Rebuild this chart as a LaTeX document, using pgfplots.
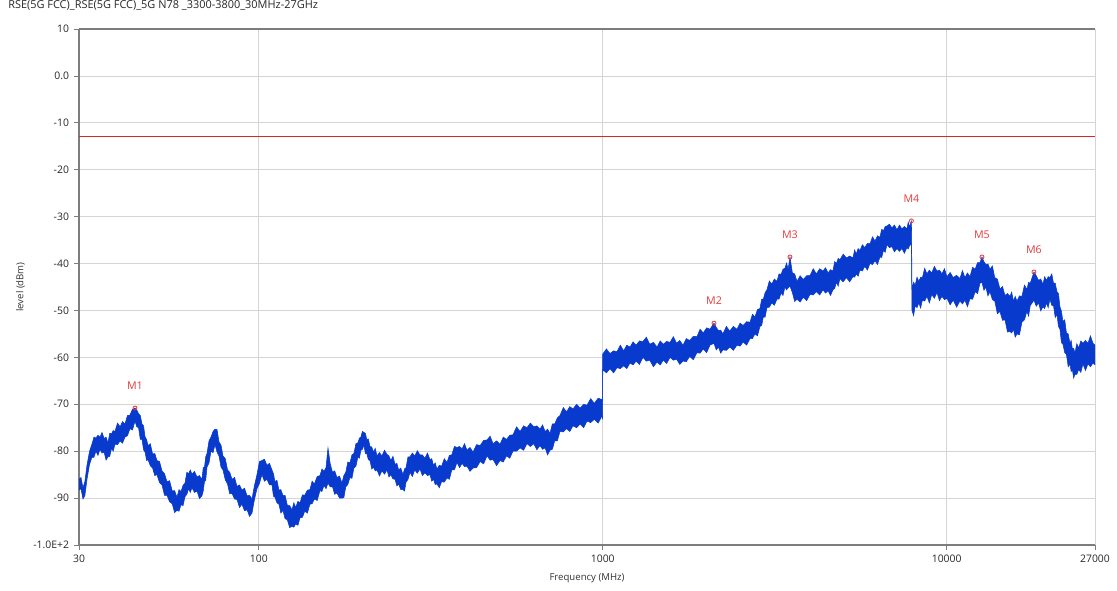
\documentclass[border=0pt]{standalone}
\usepackage{pgfplots}
\pgfplotsset{compat=1.18}
\usepackage{pgfplotstable}
\usepgfplotslibrary{fillbetween}
\usepackage{fontspec}
\setmainfont{Open Sans}

\definecolor{trace}{RGB}{8,58,205}
\definecolor{limit}{RGB}{215,40,40}
\definecolor{mred}{RGB}{225,60,60}
\definecolor{gridc}{RGB}{212,212,212}
\definecolor{axisc}{RGB}{125,125,125}

% spectrum band: frequency (MHz), upper and lower edge of the noise band (dBm)
\pgfplotstableread{
f up lo
30 -86.0 -88.3
30.4 -85.6 -88.0
30.81 -87.8 -90.2
31.2 -86.5 -89.5
31.65 -83.0 -86.0
32.2 -80.0 -82.8
32.72 -78.5 -81.3
33.16 -77.0 -81.3
33.6 -77.2 -80.0
34.06 -76.6 -80.9
34.53 -77.0 -79.6
35.0 -76.0 -80.4
35.5 -77.3 -80.2
35.96 -77.0 -81.9
36.42 -78.2 -81.2
36.86 -76.2 -81.1
37.3 -76.3 -79.4
37.73 -75.6 -80.0
38.17 -75.8 -78.5
38.83 -74.0 -78.6
39.5 -74.8 -77.8
40.15 -73.7 -78.3
40.81 -74.2 -77.0
41.5 -72.4 -76.7
42.2 -72.3 -75.2
42.9 -71.1 -75.5
43.64 -70.8 -73.6
44.17 -71.2 -74.8
44.7 -72.0 -75.0
45.22 -72.4 -77.5
45.74 -74.2 -77.5
46.22 -74.6 -79.7
46.7 -77.0 -80.2
47.16 -77.5 -82.0
47.62 -78.8 -81.8
48.36 -78.4 -83.1
49.1 -80.6 -83.6
49.83 -80.5 -85.2
50.57 -82.0 -85.0
51.43 -82.2 -86.7
52.3 -84.2 -87.2
53.18 -84.8 -89.4
54.07 -86.5 -89.4
55.03 -86.3 -90.8
56.0 -88.5 -91.2
56.9 -88.4 -93.1
57.81 -89.8 -92.6
58.6 -88.2 -92.8
59.4 -88.6 -91.4
60.2 -87.3 -91.6
61.0 -86.8 -89.7
61.75 -84.5 -89.2
62.5 -84.8 -88.0
63.2 -84.0 -88.8
63.92 -84.9 -87.8
65.0 -84.3 -88.8
66.1 -85.5 -88.5
67.2 -85.2 -90.1
68.34 -86.0 -89.5
68.92 -83.5 -88.5
69.5 -83.4 -86.5
70.09 -81.2 -86.2
70.68 -80.5 -83.4
71.64 -77.8 -82.5
72.6 -77.0 -80.0
73.6 -75.8 -80.3
74.58 -75.3 -78.6
75.6 -75.4 -80.2
76.6 -78.0 -81.0
77.64 -78.7 -83.4
78.68 -81.0 -84.0
79.9 -81.6 -86.1
81.1 -84.0 -87.0
82.3 -84.5 -89.1
83.56 -86.0 -89.0
85.0 -85.6 -90.2
86.4 -87.5 -90.3
87.87 -87.2 -92.0
89.33 -88.3 -91.3
90.87 -87.9 -92.7
92.4 -89.5 -92.5
93.96 -89.4 -93.9
95.52 -90.2 -93.2
97.0 -87.5 -90.5
98.77 -85.0 -88.0
100.4 -82.2 -86.9
102.1 -82.0 -85.0
103.8 -81.7 -86.4
105.6 -83.0 -86.0
107.4 -82.6 -87.2
109.2 -84.0 -87.2
110.3 -84.8 -89.6
111.4 -86.5 -89.8
112.9 -86.2 -91.0
114.4 -88.3 -91.3
115.9 -88.2 -93.2
117.5 -89.4 -92.6
119.2 -89.4 -94.4
121 -91.5 -94.6
122.9 -91.6 -96.3
124.9 -92.5 -96.0
126.4 -91.0 -96.2
128 -92.0 -95.5
129.9 -90.7 -95.8
131.8 -91.0 -94.2
133.9 -89.3 -94.1
136 -89.4 -92.8
138.4 -88.3 -93.2
140.8 -88.2 -91.3
142.9 -86.4 -91.2
145 -87.0 -90.2
147.8 -85.4 -90.5
150.6 -85.2 -88.4
152.6 -83.8 -88.6
154.7 -84.3 -87.3
156.8 -83.5 -88.0
158.9 -79.3 -86.8
161.3 -82.7 -87.6
163.8 -84.5 -87.6
166.2 -84.2 -89.2
168.7 -85.6 -88.9
171.6 -85.3 -90.0
174.5 -86.8 -90.0
176.7 -85.2 -89.9
179 -84.5 -87.6
181.5 -82.3 -87.1
184.1 -82.5 -85.6
186.5 -80.8 -85.8
189 -80.5 -83.6
191.6 -78.4 -83.2
194.2 -78.2 -81.2
196.1 -77.2 -81.5
198 -77.0 -79.8
200.1 -75.8 -79.6
202.2 -76.0 -78.7
204.1 -76.2 -80.5
206 -77.5 -80.5
208.2 -77.4 -81.8
210.5 -79.0 -82.0
213 -79.1 -83.8
215.5 -80.2 -83.4
218 -79.4 -84.2
220.6 -81.0 -84.0
224.3 -80.3 -85.3
228 -81.0 -84.2
232 -79.8 -84.9
235.9 -80.7 -84.0
239 -81.0 -85.5
242 -82.0 -85.0
245.5 -81.1 -85.9
248.9 -82.8 -86.0
252 -82.6 -87.4
255 -84.0 -87.0
258.7 -83.6 -88.2
262.5 -85.0 -88.2
265.2 -83.8 -88.5
268 -83.5 -86.6
271.5 -81.2 -86.0
275.1 -81.2 -84.5
279.5 -80.4 -85.4
284 -81.0 -84.0
289 -79.9 -84.7
294.2 -80.8 -83.8
299 -80.8 -85.2
304 -81.5 -84.6
309.3 -80.4 -85.2
314.6 -81.8 -85.0
318.3 -81.6 -86.4
322 -83.0 -86.0
325.8 -82.5 -87.1
329.6 -83.8 -87.0
334.8 -83.0 -87.8
340 -83.2 -86.5
346.2 -81.6 -86.6
352.4 -82.4 -85.7
358.2 -80.9 -86.0
364 -80.8 -84.0
370.4 -79.0 -84.0
376.9 -79.2 -82.4
383.4 -79.0 -83.5
390 -79.5 -82.6
396.4 -78.4 -83.3
402.9 -79.8 -83.2
411.2 -79.2 -84.3
419.5 -80.2 -83.6
429.7 -78.6 -83.5
440 -78.8 -82.2
450.4 -77.7 -82.7
460.8 -77.6 -81.0
470.4 -76.8 -81.9
480 -78.4 -81.8
491.3 -77.8 -83.1
502.7 -78.5 -82.0
513.8 -77.0 -82.3
525 -77.5 -81.0
536.6 -76.6 -81.5
548.3 -76.5 -80.0
561.6 -74.8 -80.0
575 -75.8 -79.3
588.6 -74.6 -79.8
602.2 -75.0 -78.4
616.1 -74.0 -79.0
630 -74.8 -78.4
643.4 -74.6 -79.7
656.9 -75.3 -78.8
668.4 -74.4 -79.6
680 -75.8 -79.3
691.2 -75.3 -80.8
702.4 -76.2 -79.8
713.7 -74.2 -79.6
725 -74.2 -77.8
738 -72.9 -77.8
751.0 -72.4 -75.8
768 -70.7 -75.9
785 -71.6 -75.2
802 -70.5 -75.8
819.1 -71.0 -74.6
839.5 -70.0 -75.0
860 -70.8 -74.2
879.9 -70.0 -75.0
899.7 -70.2 -73.6
922.4 -68.8 -73.9
945 -69.8 -73.2
969.9 -68.7 -74.0
994.8 -69.0 -72.5
999 -69.2 -73.0
1000 -59.3 -62.6
1025 -58.2 -63.3
1050 -59.2 -62.4
1075 -58.6 -63.3
1100 -58.8 -62.2
1125 -57.4 -62.4
1150 -58.6 -61.8
1175 -57.4 -62.4
1200 -57.8 -61.2
1225 -56.7 -61.6
1250 -57.4 -60.8
1279 -56.5 -61.5
1309 -56.6 -60.0
1339 -55.7 -60.8
1370 -57.2 -60.6
1404 -56.8 -62.0
1438 -57.8 -61.0
1469 -56.5 -61.6
1500 -57.2 -60.6
1534 -56.6 -61.3
1569 -56.8 -60.0
1604 -55.6 -60.6
1640 -57.0 -60.4
1675 -56.4 -61.5
1711 -57.4 -60.8
1750 -56.0 -60.9
1790 -56.4 -59.8
1834 -55.5 -60.5
1879 -55.6 -59.0
1919 -54.0 -59.1
1960 -54.8 -58.2
2005 -53.7 -59.0
2050 -54.0 -57.4
2106 -52.7 -57.0
2138 -53.6 -58.4
2170 -54.3 -57.8
2203 -54.2 -59.1
2236 -55.0 -58.4
2288 -53.4 -58.5
2340 -54.4 -57.8
2398 -53.4 -58.5
2456 -54.0 -57.4
2508 -52.7 -57.6
2560 -53.2 -56.7
2620 -52.4 -57.4
2680 -52.5 -56.0
2725 -50.8 -56.0
2770 -51.4 -55.0
2818 -49.8 -55.4
2865 -49.6 -53.4
2898 -47.6 -53.2
2930 -47.6 -51.4
2966 -46.2 -51.4
3002 -45.6 -49.4
3051 -43.7 -49.3
3100 -44.4 -48.4
3155 -43.3 -48.9
3210 -43.8 -47.6
3255 -42.2 -47.6
3300 -42.3 -46.3
3343 -41.2 -46.8
3387 -41.0 -45.0
3423 -39.9 -45.6
3460 -41.2 -45.2
3503 -38.6 -44.8
3560 -42.0 -46.2
3615 -42.2 -48.1
3671 -43.8 -47.6
3750 -42.6 -48.2
3830 -43.4 -47.2
3917 -42.6 -47.9
4004 -42.6 -46.6
4092 -41.1 -46.7
4180 -42.2 -46.0
4274 -41.1 -46.7
4369 -41.6 -45.6
4444 -40.9 -46.3
4520 -42.0 -45.8
4595 -41.3 -46.8
4670 -41.6 -45.6
4725 -39.6 -45.3
4780 -40.0 -44.0
4837 -38.9 -44.8
4894 -39.2 -43.2
5002 -38.0 -43.9
5110 -38.8 -43.0
5225 -38.4 -43.9
5340 -38.8 -42.8
5400 -37.1 -42.9
5460 -38.0 -42.2
5528 -36.8 -42.7
5596 -37.2 -41.4
5688 -36.0 -41.6
5780 -36.6 -40.6
5882 -35.7 -41.4
5984 -35.8 -40.0
6087 -34.3 -40.2
6190 -35.2 -39.4
6293 -34.1 -40.2
6397 -34.4 -38.6
6473 -32.7 -38.7
6550 -33.0 -37.2
6627 -32.1 -37.6
6704 -32.0 -36.0
6817 -31.6 -36.6
6930 -32.4 -36.4
7050 -31.8 -37.5
7170 -32.8 -36.8
7290 -31.8 -37.4
7410 -32.6 -36.8
7537 -32.1 -37.8
7664 -32.6 -36.6
7732 -31.2 -36.9
7800 -32.2 -36.2
7900 -30.9 -35.8
7930 -45.2 -50.0
8015 -44.0 -51.1
8100 -44.6 -49.0
8200 -42.9 -49.4
8300 -43.8 -48.4
8400 -42.9 -49.5
8500 -43.0 -47.8
8632 -41.0 -48.0
8763 -42.2 -47.0
8906 -41.4 -48.4
9050 -42.0 -46.6
9210 -40.6 -47.4
9371 -41.6 -46.2
9530 -41.4 -47.9
9690 -42.2 -47.0
9855 -41.1 -47.7
10019 -42.8 -47.4
10235 -41.9 -48.8
10450 -43.0 -47.8
10690 -42.5 -49.3
10930 -43.2 -48.0
11115 -41.5 -48.6
11300 -43.0 -47.8
11494 -42.0 -49.2
11688 -42.8 -47.5
11894 -40.8 -47.6
12100 -41.2 -46.0
12298 -39.8 -46.4
12497 -39.8 -44.2
12666 -38.6 -44.0
12833 -39.6 -45.7
13000 -40.2 -45.0
13182 -40.1 -46.9
13364 -41.2 -46.0
13582 -40.5 -47.7
13800 -43.0 -48.0
14043 -43.3 -50.7
14287 -45.4 -50.2
14533 -44.9 -52.1
14780 -46.8 -52.0
15028 -46.4 -54.6
15277 -47.0 -54.5
15458 -46.1 -54.8
15640 -48.0 -54.0
15825 -47.0 -55.7
16010 -48.0 -55.0
16280 -46.9 -55.2
16550 -47.0 -52.5
16833 -44.6 -52.0
17117 -45.5 -50.2
17308 -44.0 -51.2
17500 -44.2 -49.0
17939 -41.8 -47.8
18220 -42.6 -49.1
18500 -43.6 -48.4
18778 -43.3 -50.1
19055 -44.4 -49.2
19278 -42.8 -49.6
19500 -43.6 -48.4
19734 -42.8 -49.4
19968 -43.0 -47.6
20209 -42.2 -48.9
20450 -44.2 -49.0
20688 -44.2 -51.5
20925 -46.0 -50.8
21138 -46.4 -53.4
21350 -49.2 -54.0
21567 -50.2 -56.9
21784 -52.4 -57.2
22042 -52.0 -59.0
22300 -54.8 -59.4
22565 -55.0 -62.0
22830 -57.0 -61.4
23015 -56.4 -63.0
23200 -58.2 -62.6
23403 -58.1 -64.4
23605 -59.0 -63.6
23903 -57.1 -63.6
24200 -58.0 -62.6
24552 -56.5 -63.2
24904 -57.0 -61.4
25327 -56.4 -62.8
25750 -57.0 -61.4
26189 -55.4 -62.0
26628 -57.0 -61.2
27000 -57.4 -61.6
}\trace

% peak markers
\pgfplotstableread{
f y label
43.64 -70.8 M1
2106 -52.7 M2
3503 -38.6 M3
7900 -30.9 M4
12666 -38.6 M5
17939 -41.8 M6
}\markers

\begin{document}
\begin{tikzpicture}
\begin{semilogxaxis}[
  scale only axis,
  width=762pt, height=387pt,
  xmin=30, xmax=27000,
  ymin=-100, ymax=10,
  xtick={30,100,1000,10000,27000},
  xticklabels={30,100,1000,10000,27000},
  ytick={-100,-90,-80,-70,-60,-50,-40,-30,-20,-10,0,10},
  yticklabels={-1.0E+2,-90,-80,-70,-60,-50,-40,-30,-20,-10,0.0,10},
  minor tick num=0,
  axis x line*=bottom,
  axis y line*=left,
  axis line style={axisc, line width=0.8pt},
  tick style={axisc, line width=0.6pt},
  tick align=outside,
  major tick length=4pt,
  grid=major,
  major grid style={gridc, line width=0.5pt},
  ticklabel style={font=\fontsize{7.8}{9}\selectfont, text=black!85},
  title={RSE(5G FCC)\_RSE(5G FCC)\_5G N78 \_3300-3800\_30MHz-27GHz},
  title style={at={(0,1)}, anchor=base west, xshift=-53.25pt, yshift=9pt,
    font=\fontsize{8.2}{9}\selectfont, text=black!85, inner sep=0pt},
  xlabel={Frequency (MHz)},
  xlabel style={at={(axis description cs:0.5,0)}, anchor=center, yshift=-24.75pt,
    font=\fontsize{7.2}{9}\selectfont, text=black!80},
  ylabel={level (dBm)},
  ylabel style={at={(axis description cs:-0.0577,0.5)}, anchor=center,
    font=\fontsize{7.2}{9}\selectfont, text=black!80},
  clip=false,
]
\draw[axisc, line width=0.8pt] (rel axis cs:0,1) -- (rel axis cs:1,1);

\addplot[limit, line width=0.9pt] coordinates {(30,-13) (27000,-13)};

\addplot[trace, line width=0.4pt, name path=U] table[x=f, y=up] {\trace};
\addplot[trace, line width=0.4pt, name path=L] table[x=f, y=lo] {\trace};
\addplot[trace] fill between[of=U and L];

\addplot[only marks, mark=o, mark size=1.5pt, mark options={draw=mred, fill=white, line width=0.6pt},
  nodes near coords, point meta=explicit symbolic,
  every node near coord/.style={anchor=center, yshift=16.5pt, text=mred,
    font=\fontsize{8}{9}\selectfont}]
  table[x=f, y=y, meta=label] {\markers};
\end{semilogxaxis}
\pgfresetboundingbox
\path (-59.25pt,-33.75pt) rectangle (778.5pt,408.75pt);
\end{tikzpicture}
\end{document}
